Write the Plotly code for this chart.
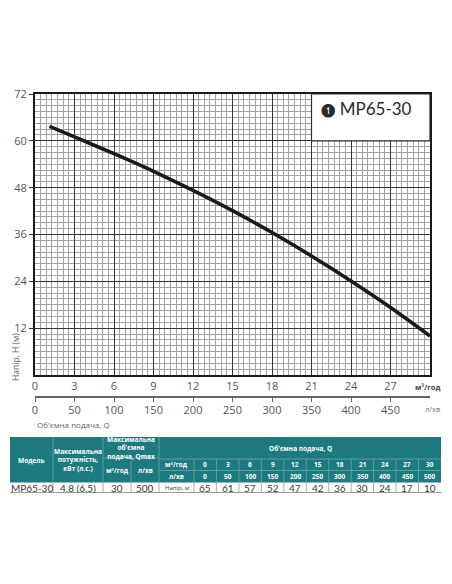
"""Pump performance curve MP65-30 with its data table."""

import plotly.graph_objects as go

# --- data -----------------------------------------------------------------
q_m3h = [0, 3, 6, 9, 12, 15, 18, 21, 24, 27, 30]
q_lmin = [0, 50, 100, 150, 200, 250, 300, 350, 400, 450, 500]
head_m = [65, 61, 57, 52, 47, 42, 36, 30, 24, 17, 10]

# curve (starts a bit after zero flow)
curve_q = [1.1, 3, 6, 9, 12, 15, 18, 21, 24, 27, 30]
curve_h = [63.7, 61.0, 56.7, 52.2, 47.3, 42.1, 36.5, 30.5, 24.1, 17.3, 10.0]

x_ticks = [0, 3, 6, 9, 12, 15, 18, 21, 24, 27]
x2_ticks = [0, 50, 100, 150, 200, 250, 300, 350, 400, 450]
y_ticks = [12, 24, 36, 48, 60, 72]

model = "MP65-30"
power = "4.8 (6.5)"
qmax_m3h = "30"
qmax_lmin = "500"

# --- page geometry (pixels) -------------------------------------------------
W, H = 452, 584
L, R, T, B = 35, 430, 94, 500      # plot box in page pixels
AX_BOTTOM = 375                    # pixel row of the Q axis
AX2_Y = 397                        # pixel row of the l/min axis

TEAL = "#1d7a7f"
TEAL_LINE = "#6aa9ac"
TXT = "#555555"


def px(x):
    return (x - L) / (R - L)


def py(y):
    return (B - y) / (B - T)


fig = go.Figure()

fig.add_trace(
    go.Scatter(
        x=curve_q,
        y=curve_h,
        mode="lines",
        line=dict(color="#1a1a1a", width=3.6, shape="spline", smoothing=1.0),
        showlegend=False,
        hoverinfo="x+y",
    )
)
# invisible trace so the l/min axis is built
fig.add_trace(
    go.Scatter(
        x=q_lmin,
        y=head_m,
        xaxis="x2",
        mode="lines",
        line=dict(width=0),
        opacity=0,
        showlegend=False,
        hoverinfo="skip",
    )
)

grid_minor = dict(showgrid=True, gridcolor="#a3a3a3", gridwidth=0.7)

fig.update_layout(
    width=W,
    height=H,
    margin=dict(l=L, r=W - R, t=T, b=H - B),
    paper_bgcolor="white",
    plot_bgcolor="white",
    font=dict(family="Open Sans", color=TXT, size=11),
    xaxis=dict(
        range=[0, 30],
        tickmode="array",
        tickvals=x_ticks,
        showgrid=True,
        gridcolor="#333333",
        gridwidth=1,
        minor=dict(tickmode="linear", tick0=0, dtick=3 / 7, **grid_minor),
        showline=True,
        linecolor="#1a1a1a",
        linewidth=2,
        mirror=True,
        zeroline=False,
        ticks="",
        ticklabelstandoff=0,
        tickfont=dict(size=11, color=TXT),
        fixedrange=True,
    ),
    xaxis2=dict(
        overlaying="x",
        anchor="free",
        position=py(AX2_Y),
        side="bottom",
        range=[0, 500],
        tickmode="array",
        tickvals=x2_ticks,
        showgrid=False,
        zeroline=False,
        showline=True,
        linecolor="#666666",
        linewidth=1.6,
        ticks="outside",
        ticklen=4,
        tickcolor="#666666",
        ticklabelstandoff=-1,
        tickfont=dict(size=11, color=TXT),
        fixedrange=True,
    ),
    yaxis=dict(
        domain=[py(AX_BOTTOM), 1],
        range=[0, 72],
        tickmode="array",
        tickvals=y_ticks,
        showgrid=True,
        gridcolor="#333333",
        gridwidth=1,
        minor=dict(tickmode="linear", tick0=0, dtick=1.5, **grid_minor),
        showline=True,
        linecolor="#1a1a1a",
        linewidth=2,
        mirror=True,
        zeroline=False,
        ticks="outside",
        ticklen=4,
        tickcolor="#333333",
        tickfont=dict(size=11, color=TXT),
        fixedrange=True,
    ),
)

shapes = []
annotations = []


def note(x, y, text, size, color, family="Open Sans", xanchor="center", angle=0):
    annotations.append(
        dict(xref="paper", yref="paper", x=px(x), y=py(y), text=text,
             showarrow=False, xanchor=xanchor, yanchor="middle", textangle=angle,
             font=dict(size=size, color=color, family=family))
    )


# model label box in the upper right corner of the chart
shapes.append(
    dict(
        type="rect", xref="x", yref="y", x0=21, x1=30, y0=60, y1=72,
        fillcolor="white", line=dict(color="#2e2e2e", width=1.2), layer="above",
    )
)
annotations.append(
    dict(
        xref="x", yref="y", x=21.55, y=68.2, xanchor="left", yanchor="middle",
        text='<span style="font-size:13px">❶</span> ' + model, showarrow=False,
        font=dict(family="Lato", size=17, color="#2a2a2a"),
    )
)

# axis captions
note(428, 387, "<b>м³/год</b>", 7.5, "#444444")
note(432, 409, "л/хв", 7.5, "#777777")
note(35, 424, "Об'ємна подача, Q", 8, "#666666", xanchor="left")
note(15, 357, "Напір, Н (м)", 8.5, "#666666", angle=-90)

# --- table ------------------------------------------------------------------
t_left, t_right = 10, 441
c_model, c_power, c_qm3, c_ql, c_lab = 53, 103, 131, 159, 194
col_w = (t_right - c_lab) / len(q_m3h)
r_top, r_q, r_mid, r_hdr, r_bot = 437, 459, 470.5, 482.5, 492.5

shapes.append(
    dict(type="rect", xref="paper", yref="paper", x0=px(t_left), x1=px(t_right),
         y0=py(r_hdr), y1=py(r_top), fillcolor=TEAL, line=dict(width=0))
)


def hline(x0, x1, y, color, w=0.8):
    shapes.append(dict(type="line", xref="paper", yref="paper", x0=px(x0), x1=px(x1),
                       y0=py(y), y1=py(y), line=dict(color=color, width=w)))


def vline(x, y0, y1, color, w=0.8):
    shapes.append(dict(type="line", xref="paper", yref="paper", x0=px(x), x1=px(x),
                       y0=py(y0), y1=py(y1), line=dict(color=color, width=w)))


for x in (c_model, c_power, c_ql):
    vline(x, r_top, r_hdr, TEAL_LINE)
vline(c_qm3, 458, r_hdr, TEAL_LINE)
hline(c_power, c_ql, 458, TEAL_LINE)
hline(c_ql, t_right, r_q, TEAL_LINE)
hline(c_ql, t_right, r_mid, TEAL_LINE)
for k in range(len(q_m3h)):
    vline(c_lab + k * col_w, r_q, r_hdr, TEAL_LINE)

for x in (c_model, c_power, c_qm3, c_ql) + tuple(c_lab + k * col_w for k in range(len(q_m3h))):
    vline(x, r_hdr, r_bot, "#9a9a9a")
hline(t_left, t_right, r_bot, "#9a9a9a", 1)

white = "white"
note((t_left + c_model) / 2, 460, "<b>Модель</b>", 6.5, white)
note((c_model + c_power) / 2, 460, "<b>Максимальна<br>потужність,<br>кВт (л.с.)</b>", 6.5, white)
note((c_power + c_ql) / 2, 447.5, "<b>Максимальна<br>об'ємна<br>подача, Qmax</b>", 6.5, white)
note((c_power + c_qm3) / 2, 470.5, "<b>м³/год</b>", 6.5, white)
note((c_qm3 + c_ql) / 2, 470.5, "<b>л/хв</b>", 6.5, white)
note((c_ql + t_right) / 2, 448, "<b>Об'ємна подача, Q</b>", 6.5, white)
note((c_ql + c_lab) / 2, 464.8, "<b>м³/год</b>", 6.5, white)
note((c_ql + c_lab) / 2, 476.5, "<b>л/хв</b>", 6.5, white)

dark = "#3a3a3a"
note((t_left + c_model) / 2, 487.5, model, 10, dark, "Lato")
note((c_model + c_power) / 2, 487.5, power, 10, dark, "Lato")
note((c_power + c_qm3) / 2, 487.5, qmax_m3h, 10, dark, "Lato")
note((c_qm3 + c_ql) / 2, 487.5, qmax_lmin, 10, dark, "Lato")
note((c_ql + c_lab) / 2, 487.5, "Напір, м", 6, dark)

for k, (qa, qb, h) in enumerate(zip(q_m3h, q_lmin, head_m)):
    cx = c_lab + (k + 0.5) * col_w
    note(cx, 464.8, "<b>%s</b>" % qa, 6.5, white)
    note(cx, 476.5, "<b>%s</b>" % qb, 6.5, white)
    note(cx, 487.5, str(h), 10, dark, "Lato")

fig.update_layout(shapes=shapes, annotations=annotations)

# page body has a default 8px margin; drop it so the figure sits at the corner
fig.write_html(
    "out.html",
    config={"displayModeBar": False},
    post_script="document.body.style.margin='0';",
)
